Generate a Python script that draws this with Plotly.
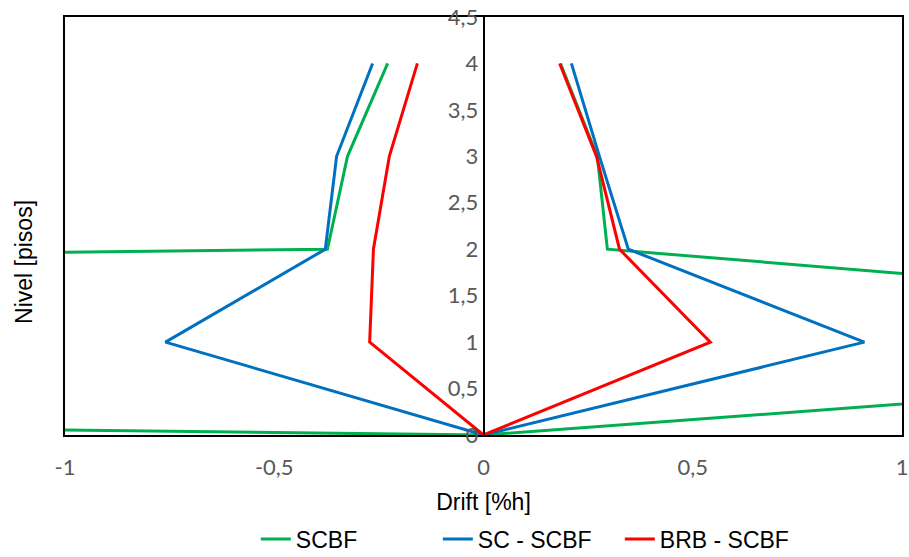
import plotly.graph_objects as go

levels = [0, 1, 2, 3, 4]

scbf_left = [0, -19.0, -0.373, -0.325, -0.229]
scbf_right = [0, 3.0, 0.296, 0.272, 0.184]

sc_left = [0, -0.760, -0.378, -0.351, -0.265]
sc_right = [0, 0.910, 0.346, 0.277, 0.210]

brb_left = [0, -0.272, -0.263, -0.225, -0.158]
brb_right = [0, 0.542, 0.325, 0.270, 0.182]

series_names = ["SCBF", "SC - SCBF", "BRB - SCBF"]
series_colors = ["#00B050", "#0070C0", "#FF0000"]

x_tickvals = [-1, -0.5, 0, 0.5, 1]
x_ticktext = ["-1", "-0,5", "0", "0,5", "1"]
y_tickvals = [0, 0.5, 1, 1.5, 2, 2.5, 3, 3.5, 4, 4.5]
y_ticktext = ["0", "0,5", "1", "1,5", "2", "2,5", "3", "3,5", "4", "4,5"]

fig = go.Figure()
for name, color, left, right in zip(series_names, series_colors,
                                    [scbf_left, sc_left, brb_left],
                                    [scbf_right, sc_right, brb_right]):
    xs = list(reversed(left)) + right[1:]
    ys = list(reversed(levels)) + levels[1:]
    fig.add_trace(go.Scatter(x=xs, y=ys, mode="lines", name=name,
                             line=dict(color=color, width=3)))

tick_font = dict(family="Lato, Liberation Sans, sans-serif", size=22, color="#595959")
title_font = dict(family="Liberation Sans, Arial, sans-serif", size=23, color="black")

fig.update_layout(
    width=909, height=557,
    margin=dict(l=65, r=7, t=17, b=122, autoexpand=False),
    plot_bgcolor="white", paper_bgcolor="white",
    showlegend=True,
    legend=dict(orientation="h", x=0.228, xanchor="left", y=-0.249, yanchor="middle",
                font=dict(family="Liberation Sans, Arial, sans-serif", size=23, color="black"),
                itemwidth=30, tracegroupgap=0, entrywidth=137, entrywidthmode="pixels"),
    xaxis=dict(range=[-1, 1], tickvals=x_tickvals, ticktext=x_ticktext,
               showgrid=False, zeroline=False, showline=True, linecolor="black",
               linewidth=2, mirror=True, ticks="", ticklabelstandoff=12,
               tickfont=tick_font, automargin=False,
               title=dict(text="Drift [%h]", standoff=14, font=title_font)),
    yaxis=dict(range=[0, 4.5], tickvals=y_tickvals, ticktext=y_ticktext,
               anchor="free", position=0.5, automargin=False,
               showgrid=False, zeroline=False, showline=True, linecolor="black",
               linewidth=1.5, ticks="", ticklabelstandoff=0, tickfont=tick_font),
    yaxis2=dict(range=[0, 4.5], overlaying="y", anchor="x", side="left",
                showgrid=False, zeroline=False, showline=True, linecolor="black",
                linewidth=2, mirror=True, showticklabels=False, ticks="",
                automargin=False),
)

# dummy trace to activate yaxis2 (frame)
fig.add_trace(go.Scatter(x=[None], y=[None], yaxis="y2", showlegend=False, hoverinfo="skip"))

fig.add_annotation(text="Nivel [pisos]", xref="paper", yref="paper",
                   x=-0.049, y=0.414, textangle=-90, showarrow=False,
                   xanchor="center", yanchor="middle",
                   font=title_font)

fig.write_html("out.html", config={"displayModeBar": False},
               post_script="document.body.style.margin='0px';")
